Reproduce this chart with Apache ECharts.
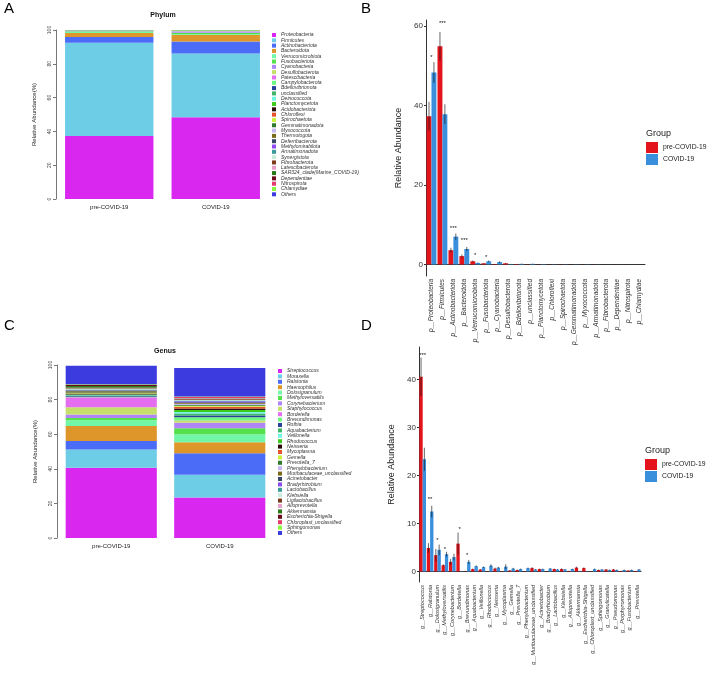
<!DOCTYPE html>
<html>
<head>
<meta charset="utf-8">
<script src="https://cdn.jsdelivr.net/npm/echarts@6/dist/echarts.min.js"></script>
<style>
body { margin: 0; background: #fff; }
.panel { position: absolute; }
</style>
</head>
<body>
<div id="pa" class="panel" style="left:0;top:0;width:362px;height:315px"></div>
<div id="pc" class="panel" style="left:0;top:315px;width:362px;height:365px"></div>
<div id="pb" class="panel" style="left:354px;top:0;width:354px;height:345px"></div>
<div id="pd" class="panel" style="left:354px;top:315px;width:354px;height:365px"></div>
<script>
const FONT = '"Liberation Sans", Arial, sans-serif'
const RED = '#E3141C'
const BLUE = '#3A8FDC'

const groups = ['pre-COVID-19', 'COVID-19']

const palette = [
    '#DA27F0', '#6ECDE6', '#4A6CF7', '#DE962A', '#72F6A8', '#54E14C', '#B085F5', '#C5DF6B',
    '#E56DF0', '#6DF97E', '#28419A', '#3FB46B', '#70F4E4', '#3CCB1D', '#2B0B0B', '#E4532B',
    '#C9F33B', '#2E7B2F', '#C6B6F2', '#7A6B1B', '#384766', '#8D4BF1', '#3B9B9B', '#C9EBD9',
    '#7B3B1A', '#E5A1C9', '#2A7A1B', '#6B0A1B', '#E43B6B', '#8BF53B', '#3B3BE0',
]

// panel A: phylum composition
const phylumNames = [
    'Proteobacteria', 'Firmicutes', 'Actinobacteriota', 'Bacteroidota', 'Verrucomicrobiota',
    'Fusobacteriota', 'Cyanobacteria', 'Desulfobacterota', 'Patescibacteria', 'Campylobacterota',
    'Bdellovibrionota', 'unclassified', 'Deinococcota', 'Planctomycetota', 'Acidobacteriota',
    'Chloroflexi', 'Spirochaetota', 'Gemmatimonadota', 'Myxococcota', 'Thermotogota',
    'Deferribacterota', 'Methylomirabilota', 'Armatimonadota', 'Synergistota', 'Fibrobacterota',
    'Latescibacterota', 'SAR324_clade(Marine_COVID-19)', 'Dependentiae', 'Nitrospirota', 'Chlamydiae', 'Others',
]
const phylumPre = [
    37.3, 55.2, 3.4, 2.3, 0.8, 0.3, 0.1, 0.3, 0.05, 0.1,
    0.1, 0.05, 0.02, 0.02, 0.01, 0.02, 0.03, 0.01, 0.01, 0.01,
    0.01, 0.01, 0.01, 0.01, 0.01, 0.01, 0.01, 0.01, 0.01, 0.01, 0.05,
]
const phylumCovid = [
    48.3, 37.8, 7.1, 3.9, 0.4, 0.8, 0.6, 0.1, 0.2, 0.2,
    0.15, 0.15, 0.05, 0.1, 0.02, 0.05, 0.05, 0.05, 0.05, 0.01,
    0.01, 0.01, 0.03, 0.01, 0.02, 0.01, 0.01, 0.02, 0.02, 0.01, 0.05,
]

// panel C: genus composition
const genusNames = [
    'Streptococcus', 'Moraxella', 'Ralstonia', 'Haemophilus', 'Dolosigranulum', 'Methyloversatilis',
    'Corynebacterium', 'Staphylococcus', 'Bordetella', 'Brevundimonas', 'Rothia', 'Aquabacterium',
    'Veillonella', 'Rhodococcus', 'Neisseria', 'Mycoplasma', 'Gemella', 'Prevotella_7',
    'Phenylobacterium', 'Muribaculaceae_unclassified', 'Acinetobacter', 'Bradyrhizobium',
    'Lactobacillus', 'Klebsiella', 'Ligilactobacillus', 'Alloprevotella', 'Akkermansia',
    'Escherichia-Shigella', 'Chloroplast_unclassified', 'Sphingomonas', 'Others',
]
const genusPre = [
    40.6, 10.5, 4.9, 8.7, 3.4, 1.3, 2.0, 4.2, 5.8, 0.05, 0.5, 0.5,
    0.4, 0.05, 0.6, 0.05, 0.2, 0.3, 0.05, 0.7, 0.5, 0.05,
    0.5, 0.5, 0.6, 0.1, 0.8, 0.7, 0.05, 0.3, 10.6,
]
const genusCovid = [
    23.4, 13.1, 12.5, 6.4, 4.6, 3.5, 3.1, 1.2, 0.1, 1.9, 1.0, 1.1,
    0.9, 1.2, 0.8, 1.0, 0.6, 0.5, 0.7, 0.4, 0.5, 0.6,
    0.4, 0.4, 0.4, 0.5, 0.1, 0.05, 0.5, 0.4, 16.4,
]

// panel B: phylum comparison
const bCategories = [
    'p__Proteobacteria', 'p__Firmicutes', 'p__Actinobacteriota', 'p__Bacteroidota', 'p__Verrucomicrobiota',
    'p__Fusobacteriota', 'p__Cyanobacteria', 'p__Desulfobacterota', 'p__Bdellovibrionota', 'p__unclassified',
    'p__Planctomycetota', 'p__Chloroflexi', 'p__Spirochaetota', 'p__Gemmatimonadota', 'p__Myxococcota',
    'p__Armatimonadota', 'p__Fibrobacterota', 'p__Dependentiae', 'p__Nitrospirota', 'p__Chlamydiae',
]
const bPre = [37.3, 54.9, 3.6, 2.1, 0.8, 0.3, 0.1, 0.3, 0.1, 0.05, 0.02, 0.02, 0.03, 0.01, 0.01, 0.01, 0.01, 0.01, 0.01, 0.01]
const bCovid = [48.3, 37.8, 7.0, 3.9, 0.4, 0.8, 0.6, 0.1, 0.15, 0.15, 0.1, 0.05, 0.05, 0.05, 0.05, 0.03, 0.02, 0.02, 0.02, 0.01]
const bPreSe = [3.6, 3.6, 0.6, 0.4, 0.2, 0.1, 0.05, 0.1, 0.03, 0.02, 0.01, 0.01, 0.01, 0.01, 0.01, 0.01, 0.01, 0.01, 0.01, 0.01]
const bCovidSe = [2.6, 2.5, 0.8, 0.5, 0.1, 0.2, 0.2, 0.05, 0.05, 0.05, 0.03, 0.02, 0.02, 0.02, 0.02, 0.01, 0.01, 0.01, 0.01, 0.01]
const bStarIdx = [0, 1, 2, 3, 4, 5]
const bStarText = ['*', '***', '***', '***', '*', '*']
const bStarY = [52.1, 60.6, 9.0, 6.0, 2.3, 1.8]

// panel D: genus comparison
const dCategories = [
    'g__Streptococcus', 'g__Ralstonia', 'g__Dolosigranulum', 'g__Methyloversatilis', 'g__Corynebacterium',
    'g__Bordetella', 'g__Brevundimonas', 'g__Aquabacterium', 'g__Veillonella', 'g__Rhodococcus',
    'g__Neisseria', 'g__Mycoplasma', 'g__Gemella', 'g__Prevotella_7', 'g__Phenylobacterium',
    'g__Muribaculaceae_unclassified', 'g__Acinetobacter', 'g__Bradyrhizobium', 'g__Lactobacillus', 'g__Klebsiella',
    'g__Alloprevotella', 'g__Akkermansia', 'g__Escherichia-Shigella', 'g__Chloroplast_unclassified', 'g__Sphingomonas',
    'g__Granulicatella', 'g__Pseudomonas', 'g__Porphyromonas', 'g__Fusobacterium', 'g__Prevotella',
]
const dPre = [40.6, 4.9, 3.4, 1.3, 2.0, 5.8, 0.05, 0.5, 0.4, 0.05, 0.6, 0.05, 0.2, 0.3, 0.05, 0.7, 0.5, 0.05, 0.5, 0.5, 0.1, 0.8, 0.7, 0.05, 0.3, 0.4, 0.4, 0.1, 0.2, 0.1]
const dCovid = [23.4, 12.5, 4.5, 3.6, 3.0, 0.05, 2.0, 1.1, 0.9, 1.2, 0.8, 1.0, 0.6, 0.5, 0.7, 0.4, 0.5, 0.6, 0.4, 0.4, 0.5, 0.1, 0.05, 0.5, 0.4, 0.3, 0.3, 0.3, 0.3, 0.4]
const dPreSe = [4.0, 1.0, 1.3, 0.2, 0.6, 2.3, 0.02, 0.1, 0.1, 0.02, 0.2, 0.02, 0.1, 0.1, 0.02, 0.2, 0.1, 0.02, 0.1, 0.15, 0.05, 0.2, 0.15, 0.02, 0.1, 0.1, 0.1, 0.05, 0.05, 0.05]
const dCovidSe = [2.4, 1.2, 1.1, 0.5, 0.7, 0.02, 0.4, 0.15, 0.15, 0.3, 0.15, 0.5, 0.15, 0.1, 0.1, 0.1, 0.1, 0.1, 0.1, 0.1, 0.1, 0.05, 0.02, 0.1, 0.1, 0.1, 0.1, 0.1, 0.1, 0.1]
const dStarIdx = [0, 1, 2, 3, 5, 6]
const dStarText = ['***', '**', '*', '*', '*', '*']
const dStarY = [45.0, 15.1, 6.4, 4.7, 8.8, 3.3]

const letterTitle = (text, left, top) => ({
    text, left, top, padding: 0,
    textStyle: { fontSize: 15, fontWeight: 'normal', color: '#000', fontFamily: FONT },
})

const stackOption = (letter, heading, names, pre, covid, lay) => ({
    animation: false,
    textStyle: { fontFamily: FONT },
    title: [
        letterTitle(letter, lay.letterX, lay.letterY),
        {
            text: heading, left: lay.headX, top: lay.headY, textAlign: 'center', padding: 0,
            textStyle: { fontSize: 7, fontWeight: 'bold', color: '#111', fontFamily: FONT },
        },
    ],
    grid: { left: lay.left, top: lay.top, width: lay.width, height: lay.height, outerBoundsMode: 'none' },
    legend: {
        orient: 'vertical',
        left: lay.legendX,
        top: lay.legendY,
        padding: 0,
        icon: 'rect',
        itemWidth: 4,
        itemHeight: 4,
        itemGap: lay.legendGap,
        textStyle: { fontSize: 5, lineHeight: 5, fontStyle: 'italic', color: '#333', fontFamily: FONT },
        data: names,
    },
    xAxis: {
        type: 'category',
        data: groups,
        axisLine: { show: false },
        axisTick: { show: false },
        axisLabel: { fontSize: 6, color: '#222', margin: 5 },
    },
    yAxis: {
        type: 'value',
        min: 0,
        max: 100,
        interval: 20,
        splitLine: { show: false },
        axisLine: { show: true, lineStyle: { color: '#777' } },
        axisTick: { show: true, length: 3, lineStyle: { color: '#777' } },
        axisLabel: { rotate: 90, fontSize: 5, color: '#444', margin: 4 },
        name: 'Relative Abundance(%)',
        nameLocation: 'middle',
        nameRotate: 90,
        nameGap: 19,
        nameTextStyle: { fontSize: 6, color: '#222' },
    },
    series: names.map((name, i) => ({
        type: 'bar',
        name,
        stack: 'total',
        barWidth: lay.barWidth,
        itemStyle: { color: palette[i] },
        data: [pre[i], covid[i]],
    })),
})

const errorRender = offset => (params, api) => {
    const x = api.value(0)
    const lo = api.coord([x, api.value(1)])
    const hi = api.coord([x, api.value(2)])
    const dx = offset * api.size([1, 0])[0]
    return {
        type: 'line',
        shape: { x1: lo[0] + dx, y1: lo[1], x2: hi[0] + dx, y2: hi[1] },
        style: { stroke: 'rgba(20,20,20,0.65)', lineWidth: 1 },
    }
}

const groupOption = (letter, cats, pre, covid, preSe, covidSe, starIdx, starText, starY, lay) => ({
    animation: false,
    textStyle: { fontFamily: FONT },
    title: [
        letterTitle(letter, lay.letterX, lay.letterY),
        {
            text: 'Group', left: lay.legendX, top: lay.groupY, padding: 0,
            textStyle: { fontSize: 9, fontWeight: 'normal', color: '#222', fontFamily: FONT },
        },
    ],
    grid: { left: lay.left, top: lay.top, width: lay.width, height: lay.height, outerBoundsMode: 'none' },
    legend: {
        orient: 'vertical',
        left: lay.legendX,
        top: lay.legendY,
        padding: 0,
        icon: 'rect',
        itemWidth: 12,
        itemHeight: 11,
        itemGap: 1,
        textStyle: { fontSize: 6.8, color: '#222', fontFamily: FONT },
        data: groups,
    },
    xAxis: {
        type: 'category',
        data: cats,
        axisLine: { lineStyle: { color: '#333' } },
        axisTick: { length: 2, alignWithLabel: true, lineStyle: { color: '#333' } },
        axisLabel: { rotate: 90, interval: 0, fontSize: lay.xFont, fontStyle: 'italic', color: '#333', margin: 3 },
    },
    yAxis: {
        type: 'value',
        min: lay.ymin,
        max: lay.ymax,
        splitLine: { show: false },
        axisLine: { show: true, lineStyle: { color: '#333' } },
        axisTick: { show: true, length: 2, customValues: lay.ticks, lineStyle: { color: '#333' } },
        axisLabel: { fontSize: 8, color: '#333', margin: 3, customValues: lay.ticks },
        name: 'Relative Abundance',
        nameLocation: 'middle',
        nameRotate: 90,
        nameGap: lay.nameGap,
        nameTextStyle: { fontSize: 9, color: '#222' },
    },
    series: [
        { type: 'bar', name: groups[0], data: pre, barWidth: '45%', barGap: '0%', itemStyle: { color: RED } },
        { type: 'bar', name: groups[1], data: covid, barWidth: '45%', barGap: '0%', itemStyle: { color: BLUE } },
        {
            type: 'custom',
            renderItem: errorRender(-0.225),
            encode: { x: 0, y: [1, 2] },
            data: cats.map((c, i) => [i, pre[i] - preSe[i], pre[i] + preSe[i]]),
            z: 5,
        },
        {
            type: 'custom',
            renderItem: errorRender(0.225),
            encode: { x: 0, y: [1, 2] },
            data: cats.map((c, i) => [i, covid[i] - covidSe[i], covid[i] + covidSe[i]]),
            z: 5,
        },
        {
            type: 'custom',
            encode: { x: 0, y: 1 },
            data: starIdx.map((idx, k) => [idx, starY[k]]),
            renderItem: (params, api) => {
                const p = api.coord([api.value(0), api.value(1)])
                return {
                    type: 'text',
                    x: p[0],
                    y: p[1],
                    style: {
                        text: starText[params.dataIndex],
                        fill: '#111',
                        fontSize: 6,
                        fontFamily: FONT,
                        align: 'center',
                        verticalAlign: 'middle',
                    },
                }
            },
            z: 6,
        },
    ],
})

const mount = (id, option) => {
    const chart = echarts.init(document.getElementById(id))
    chart.setOption(option)
}

mount('pa', stackOption('A', 'Phylum', phylumNames, phylumPre, phylumCovid, {
    letterX: 4, letterY: 1, headX: 163, headY: 12,
    left: 56, top: 30, width: 213, height: 169, barWidth: '83%',
    legendX: 272, legendY: 32.5, legendGap: 0.31,
}))

mount('pc', stackOption('C', 'Genus', genusNames, genusPre, genusCovid, {
    letterX: 4, letterY: 3, headX: 165, headY: 33,
    left: 57, top: 50, width: 217, height: 173, barWidth: '84%',
    legendX: 278, legendY: 53.5, legendGap: 0.4,
}))

mount('pb', groupOption('B', bCategories, bPre, bCovid, bPreSe, bCovidSe, bStarIdx, bStarText, bStarY, {
    letterX: 7, letterY: 1,
    left: 72, top: 20, width: 219, height: 256,
    ymin: -2.9, ymax: 61.5, ticks: [0, 20, 40, 60], nameGap: 20, xFont: 6.5,
    legendX: 292, legendY: 142, groupY: 129,
}))

mount('pd', groupOption('D', dCategories, dPre, dCovid, dPreSe, dCovidSe, dStarIdx, dStarText, dStarY, {
    letterX: 7, letterY: 3,
    left: 65, top: 32, width: 222, height: 235,
    ymin: -2.2, ymax: 46.8, ticks: [0, 10, 20, 30, 40], nameGap: 20, xFont: 5.5,
    legendX: 291, legendY: 144, groupY: 131,
}))
</script>
</body>
</html>
